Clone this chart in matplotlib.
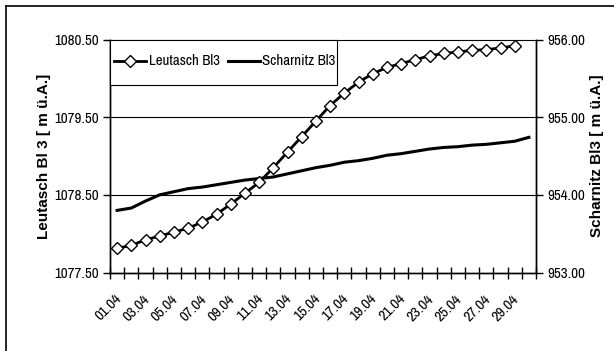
import matplotlib
matplotlib.use("Agg")
import matplotlib.pyplot as plt
from matplotlib import font_manager
from matplotlib.lines import Line2D
from matplotlib.patches import Rectangle
from matplotlib.transforms import ScaledTranslation
import numpy as np

# ---- data ----
dates = ["%02d.04" % d for d in range(1, 31)]
leutasch = [1077.81, 1077.85, 1077.92, 1077.97, 1078.02, 1078.07, 1078.15, 1078.25,
            1078.38, 1078.52, 1078.66, 1078.85, 1079.05, 1079.25, 1079.45, 1079.65,
            1079.81, 1079.95, 1080.06, 1080.14, 1080.19, 1080.24, 1080.29, 1080.32,
            1080.34, 1080.36, 1080.37, 1080.39, 1080.42]
scharnitz = [953.80, 953.83, 953.92, 954.00, 954.04, 954.08, 954.10, 954.13,
             954.16, 954.19, 954.21, 954.23, 954.27, 954.31, 954.35, 954.38,
             954.42, 954.44, 954.47, 954.51, 954.53, 954.56, 954.59, 954.61,
             954.62, 954.64, 954.65, 954.67, 954.69, 954.74]
left_ticks = [1077.5, 1078.5, 1079.5, 1080.5]
right_ticks = [953.0, 954.0, 955.0, 956.0]
label_left = "Leutasch Bl 3 [ m ü.A.]"
label_right = "Scharnitz Bl3 [ m ü.A.]"
names = ["Leutasch Bl3", "Scharnitz Bl3"]

avail = {f.name for f in font_manager.fontManager.ttflist}
narrow = "Liberation Sans"
for cand in ["Liberation Sans Narrow", "Archivo Narrow", "Roboto Condensed"]:
    if cand in avail:
        narrow = cand
        break
plt.rcParams["font.family"] = [narrow, "DejaVu Sans"]
FS = 10.8

W, H = 614, 351
fig = plt.figure(figsize=(W / 100, H / 100), dpi=100)

# outer frame (top and left visible)
fig.add_artist(Line2D([5.5 / W, 5.5 / W], [0, 1 - 6 / H], color="black", lw=1.2, transform=fig.transFigure))
fig.add_artist(Line2D([5.5 / W, 1], [1 - 6 / H, 1 - 6 / H], color="black", lw=1.2, transform=fig.transFigure))

L, R, T, B = 110, 536, 39.5, 272.5
AW, AH = R - L, B - T
ax = fig.add_axes([L / W, 1 - B / H, AW / W, AH / H])
ax2 = ax.twinx()

x1 = np.arange(len(leutasch))
x2 = np.arange(len(scharnitz))

ax.set_xlim(-0.5, len(dates) - 0.5)
ax.set_ylim(left_ticks[0], left_ticks[-1])
ax2.set_ylim(right_ticks[0], right_ticks[-1])

for v in left_ticks[1:]:
    ax.axhline(v, color="black", lw=0.8, zorder=0, clip_on=False)

MS = 5.8
ax2.plot(x2, scharnitz, color="black", lw=2.2, zorder=3)
ax.plot(x1, leutasch, color="black", lw=2.0, marker="D", markersize=MS,
        markerfacecolor="white", markeredgecolor="black", markeredgewidth=1.0, zorder=4)
ax.set_zorder(ax2.get_zorder() + 1)
ax.patch.set_visible(False)

for a in (ax, ax2):
    a.spines["top"].set_visible(False)
    for s in ["left", "right", "bottom"]:
        a.spines[s].set_linewidth(1.0)

ax.set_yticks(left_ticks)
ax.set_yticklabels(["%.2f" % v for v in left_ticks])
ax2.set_yticks(right_ticks)
ax2.set_yticklabels(["%.2f" % v for v in right_ticks])
ax.tick_params(axis="y", direction="out", length=5, width=1, labelsize=FS, pad=3)
ax2.tick_params(axis="y", direction="out", length=5, width=1, labelsize=FS, pad=3)

ax.set_xticks(np.arange(0, len(dates), 2))
ax.set_xticklabels(dates[::2], rotation=45, ha="right", va="top", rotation_mode="anchor")
ax.tick_params(axis="x", which="major", length=0, labelsize=FS, pad=14)
ax.set_xticks(np.arange(-0.5, len(dates), 1), minor=True)
ax.tick_params(axis="x", which="minor", direction="inout", length=9, width=1)
shift = ScaledTranslation(-3 / 100, 0, fig.dpi_scale_trans)
for lab in ax.get_xticklabels():
    lab.set_transform(lab.get_transform() + shift)

lab_font = ["Liberation Sans", "DejaVu Sans"]
ax.set_ylabel(label_left, family=lab_font, fontweight="bold", fontsize=11)
ax2.set_ylabel(label_right, family=lab_font, fontweight="bold", fontsize=11, rotation=90)
ax.yaxis.label.set_verticalalignment("center")
ax2.yaxis.label.set_verticalalignment("center")
ax.yaxis.set_label_coords((44 - L) / AW, 0.5)
ax2.yaxis.set_label_coords((597 - L) / AW, 0.5)

# legend box (drawn manually, pixel positions converted to axes fraction)
def px(xp, yp):
    return (xp - L) / AW, (B - yp) / AH

x0, y0 = px(110, 85.3)
x1b, y1b = px(337, 39.5)
ax.add_patch(Rectangle((x0, y0), x1b - x0, y1b - y0, transform=ax.transAxes,
                       facecolor="white", edgecolor="black", lw=0.8, zorder=10, clip_on=False))
ly = px(0, 61)[1]
ax.add_line(Line2D([px(114, 0)[0], px(146, 0)[0]], [ly, ly], transform=ax.transAxes,
                   color="black", lw=2.0, zorder=11))
ax.add_line(Line2D([px(130, 0)[0]], [ly], transform=ax.transAxes, marker="D", markersize=MS,
                   markerfacecolor="white", markeredgecolor="black", markeredgewidth=1.0,
                   linestyle="none", zorder=12))
ax.text(px(149, 0)[0], ly, names[0], transform=ax.transAxes, fontsize=FS,
        ha="left", va="center", zorder=12)
ax.add_line(Line2D([px(228, 0)[0], px(260, 0)[0]], [ly, ly], transform=ax.transAxes,
                   color="black", lw=2.2, zorder=11))
ax.text(px(262, 0)[0], ly, names[1], transform=ax.transAxes, fontsize=FS,
        ha="left", va="center", zorder=12)

fig.savefig("out.png", dpi=100)
